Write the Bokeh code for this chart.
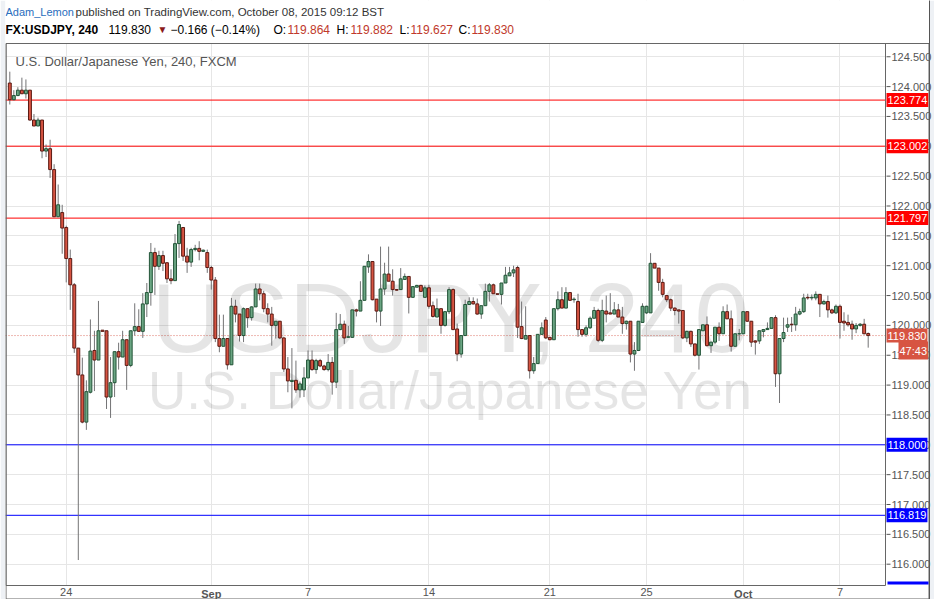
from bokeh.plotting import figure
from bokeh.models import Label, Span, FixedTicker, NumeralTickFormatter, ColumnDataSource, BoxAnnotation
from bokeh.embed import file_html
from bokeh.resources import INLINE
from bokeh.core.properties import value

# ---------------- data (USDJPY, 4h candles) ----------------
opens = [124.06, 123.78, 123.85, 123.94, 123.88, 123.94, 123.44, 123.34, 123.44, 122.92,
         122.96, 122.61, 121.82, 121.89, 121.64, 121.12, 120.68, 119.62, 119.17, 118.38,
         118.88, 119.58, 119.42, 119.92, 119.91, 118.80, 119.04, 119.56, 119.47, 119.76,
         119.33, 119.91, 119.98, 119.90, 120.36, 120.55, 121.22, 120.99, 121.17, 121.05,
         120.78, 120.75, 121.37, 121.64, 121.16, 121.06, 121.27, 121.29, 121.24, 121.22,
         120.97, 120.76, 119.78, 119.65, 119.78, 119.34, 120.32, 120.19, 119.83, 120.28,
         120.13, 120.31, 120.61, 120.53, 120.28, 120.19, 120.00, 120.07, 119.79, 119.27,
         119.06, 119.08, 118.92, 118.92, 119.12, 119.42, 119.26, 119.41, 119.32, 119.26,
         119.38, 119.05, 119.93, 120.02, 119.80, 119.80, 120.26, 120.24, 120.42, 120.98,
         121.07, 120.44, 120.24, 120.61, 120.86, 120.74, 120.60, 120.60, 120.77, 120.82,
         120.47, 120.64, 120.67, 120.47, 120.63, 120.33, 120.14, 120.28, 120.00, 120.23,
         120.60, 119.94, 119.52, 119.83, 120.35, 120.40, 120.36, 120.19, 120.33, 120.57,
         120.68, 120.53, 120.52, 120.71, 120.83, 120.88, 120.97, 119.98, 119.77, 119.83,
         119.24, 119.36, 119.85, 120.09, 119.80, 119.76, 120.28, 120.43, 120.29, 120.55,
         120.43, 120.40, 119.93, 119.85, 119.96, 120.12, 120.25, 119.75, 120.24, 120.21,
         120.19, 120.26, 120.14, 120.03, 120.07, 119.52, 119.58, 120.05, 120.21, 120.21,
         121.04, 120.96, 120.72, 120.50, 120.43, 120.29, 120.26, 120.25, 119.79, 119.90,
         119.69, 119.50, 119.91, 120.01, 119.66, 119.72, 119.97, 119.86, 120.23, 120.11,
         119.65, 119.86, 119.86, 120.23, 120.07, 119.74, 119.74, 119.90, 119.93, 119.95,
         120.13, 119.19, 119.78, 119.97, 120.02, 120.01, 120.19, 120.23, 120.47, 120.46,
         120.46, 120.52, 120.36, 120.40, 120.26, 120.21, 120.32, 120.07, 120.05, 120.02,
         119.94, 120.00, 120.02, 119.864]
highs = [124.25, 123.94, 123.99, 124.15, 124.12, 123.94, 123.54, 123.48, 123.44, 123.03,
         123.11, 122.70, 122.36, 122.02, 121.67, 121.27, 120.71, 119.62, 119.46, 119.08,
         120.10, 119.91, 120.41, 119.92, 119.91, 119.47, 119.56, 119.71, 119.91, 119.76,
         119.91, 120.37, 120.27, 120.54, 120.71, 121.38, 121.30, 121.25, 121.25, 121.05,
         120.94, 121.53, 121.75, 121.64, 121.30, 121.30, 121.35, 121.41, 121.27, 121.27,
         121.00, 120.81, 120.18, 120.18, 119.78, 120.46, 120.43, 120.19, 120.30, 120.28,
         120.32, 120.70, 120.70, 120.58, 120.37, 120.31, 120.07, 120.07, 119.80, 119.47,
         119.62, 119.41, 119.06, 119.30, 119.58, 119.58, 119.44, 119.44, 119.34, 119.52,
         119.47, 120.21, 120.19, 120.08, 119.99, 120.26, 120.28, 120.74, 120.99, 121.19,
         121.07, 120.44, 121.32, 121.05, 121.32, 120.94, 120.60, 120.96, 120.87, 120.82,
         120.65, 120.68, 120.68, 120.67, 120.68, 120.40, 120.45, 120.28, 120.23, 120.64,
         120.62, 120.03, 119.83, 120.43, 120.47, 120.47, 120.45, 120.33, 120.70, 120.71,
         120.70, 120.53, 120.71, 120.98, 120.98, 121.00, 121.00, 120.40, 120.32, 119.83,
         119.47, 119.85, 120.05, 120.14, 119.80, 120.28, 120.57, 120.64, 120.64, 120.56,
         120.47, 120.53, 119.93, 120.00, 120.15, 120.31, 120.28, 120.43, 120.50, 120.54,
         120.39, 120.36, 120.31, 120.08, 120.07, 119.72, 120.07, 120.37, 120.33, 121.21,
         121.04, 120.96, 120.78, 120.50, 120.45, 120.30, 120.26, 120.25, 119.91, 119.91,
         119.69, 119.93, 120.01, 120.15, 119.72, 119.97, 120.05, 120.32, 120.35, 120.25,
         119.86, 119.94, 120.23, 120.23, 120.07, 119.75, 119.91, 119.94, 120.05, 120.13,
         120.17, 119.78, 120.13, 120.13, 120.14, 120.31, 120.28, 120.53, 120.53, 120.52,
         120.57, 120.52, 120.43, 120.50, 120.28, 120.35, 120.35, 120.22, 120.18, 120.08,
         120.04, 120.04, 120.11, 119.882]
lows = [123.70, 123.77, 123.84, 123.88, 123.80, 123.43, 123.34, 123.34, 122.80, 122.82,
        122.47, 121.82, 121.82, 121.20, 120.72, 120.26, 119.54, 116.07, 118.36, 118.25,
        118.86, 118.90, 119.42, 119.90, 118.60, 118.45, 118.80, 119.26, 119.47, 118.92,
        119.30, 119.83, 119.90, 119.79, 120.14, 120.33, 120.51, 120.93, 120.91, 120.71,
        120.69, 120.75, 121.13, 121.08, 120.88, 120.98, 121.24, 121.09, 121.23, 120.88,
        120.60, 119.72, 119.55, 119.65, 119.26, 119.34, 120.05, 119.73, 119.72, 119.96,
        120.08, 120.31, 120.42, 120.22, 120.05, 119.66, 119.78, 119.77, 119.22, 118.88,
        118.61, 118.87, 118.79, 118.80, 119.12, 119.24, 119.19, 119.30, 119.24, 119.23,
        118.84, 118.95, 119.92, 119.69, 119.79, 119.79, 120.15, 120.24, 120.42, 120.88,
        120.42, 120.05, 119.99, 120.51, 120.74, 120.50, 120.58, 120.60, 120.77, 120.20,
        120.47, 120.64, 120.56, 120.47, 120.28, 120.13, 120.14, 119.86, 119.98, 120.19,
        119.92, 119.40, 119.46, 119.83, 120.35, 120.35, 120.18, 120.11, 120.33, 120.40,
        120.53, 120.52, 120.35, 120.71, 120.83, 120.81, 119.79, 119.77, 119.77, 119.11,
        119.19, 119.36, 119.85, 119.77, 119.75, 119.76, 120.25, 120.29, 120.29, 120.41,
        120.38, 119.81, 119.81, 119.81, 119.94, 120.12, 119.72, 119.72, 120.05, 120.19,
        120.19, 120.14, 119.86, 119.93, 119.38, 119.24, 119.57, 120.04, 120.19, 120.21,
        120.96, 120.58, 120.47, 120.39, 120.24, 120.17, 120.03, 119.77, 119.72, 119.64,
        119.48, 119.26, 119.91, 119.65, 119.54, 119.69, 119.74, 119.86, 120.11, 119.56,
        119.65, 119.75, 119.86, 120.06, 119.64, 119.51, 119.69, 119.80, 119.93, 119.95,
        118.97, 118.70, 119.72, 119.89, 119.89, 119.91, 120.17, 120.21, 120.43, 120.42,
        120.42, 120.14, 120.35, 120.13, 120.19, 120.19, 119.78, 119.91, 119.98, 119.76,
        119.87, 119.98, 119.85, 119.627]
closes = [123.78, 123.85, 123.94, 123.88, 123.94, 123.44, 123.34, 123.44, 122.92, 122.96,
          122.61, 121.82, 122.02, 121.63, 121.12, 120.68, 119.62, 119.17, 118.38, 118.89,
          119.57, 119.42, 119.91, 119.90, 118.80, 119.04, 119.56, 119.47, 119.76, 119.33,
          119.91, 119.98, 119.90, 120.36, 120.55, 121.22, 120.99, 121.17, 121.04, 120.78,
          120.75, 121.37, 121.69, 121.16, 121.06, 121.27, 121.29, 121.24, 121.26, 120.97,
          120.76, 119.78, 119.65, 119.78, 119.34, 120.32, 120.19, 119.83, 120.28, 120.13,
          120.31, 120.61, 120.53, 120.28, 120.19, 120.00, 120.07, 119.79, 119.27, 119.07,
          119.08, 118.92, 119.02, 119.12, 119.42, 119.26, 119.41, 119.32, 119.26, 119.38,
          119.05, 119.93, 120.02, 119.79, 119.81, 120.26, 120.24, 120.42, 120.99, 121.07,
          120.43, 120.24, 120.61, 120.86, 120.74, 120.60, 120.59, 120.78, 120.82, 120.47,
          120.65, 120.67, 120.57, 120.63, 120.32, 120.15, 120.28, 120.00, 120.23, 120.60,
          119.93, 119.52, 119.83, 120.35, 120.40, 120.36, 120.19, 120.33, 120.57, 120.68,
          120.53, 120.52, 120.71, 120.84, 120.88, 120.93, 119.97, 119.78, 119.83, 119.24,
          119.36, 119.85, 119.96, 119.79, 119.76, 120.28, 120.43, 120.29, 120.55, 120.42,
          120.44, 119.93, 119.85, 119.96, 120.12, 120.25, 119.75, 120.25, 120.19, 120.19,
          120.26, 120.14, 120.03, 120.07, 119.52, 119.58, 120.07, 120.32, 120.32, 121.04,
          120.96, 120.72, 120.52, 120.43, 120.29, 120.25, 120.24, 119.79, 119.90, 119.69,
          119.50, 119.93, 120.01, 119.66, 119.72, 119.97, 119.86, 120.23, 120.11, 119.65,
          119.86, 119.86, 120.23, 120.07, 119.72, 119.72, 119.91, 119.93, 119.95, 120.13,
          119.19, 119.78, 119.88, 120.01, 120.01, 120.19, 120.23, 120.46, 120.46, 120.47,
          120.52, 120.36, 120.40, 120.26, 120.21, 120.32, 120.05, 120.04, 120.01, 119.94,
          120.00, 120.02, 119.86, 119.830]

x_tick_pos = [14, 50, 74, 104, 134, 158, 182, 206]
x_tick_labels = ["24", "Sep", "7", "14", "21", "25", "Oct", "7"]
bold_labels = ["Sep", "Oct"]
y_ticks = [116.0, 116.5, 117.0, 117.5, 118.0, 118.5, 119.0, 119.5, 120.0,
           120.5, 121.0, 121.5, 122.0, 122.5, 123.0, 123.5, 124.0, 124.5]
red_levels = [123.774, 123.002, 121.797]
blue_levels = [118.000, 116.819]
last_price = 119.830
countdown = "47:43"

# ---------------- layout helpers (picture pixels -> data) ----------------
X0, DX = 9.3, 4.03          # x pixel of first candle, px per candle
Y0, DY = 563.7, 59.7         # y pixel of 116.000, px per yen
def xd(px):
    return (px - X0) / DX
def yd(py):
    return 116.0 + (Y0 - py) / DY

W, H = 931, 599
LEFT = 5
FONT = "Liberation Sans"
UP, DOWN = "#6ba583", "#d75442"
UP_B, DOWN_B = "#225437", "#5b1a13"
WICK = "#737375"
TXT = "#555555"
GRID = "#e6e6e6"
PLOT_R, PLOT_T, PLOT_B = 885, 43, 585

xL, xR = xd(LEFT), xd(W - 2)
yT, yB = yd(0), yd(H)

p = figure(frame_width=W - 2 - LEFT, frame_height=H,
           x_range=(xL, xR), y_range=(yB, yT),
           y_axis_location="right", output_backend="svg", toolbar_location=None,
           min_border_left=LEFT, min_border_top=0, min_border_bottom=0, min_border_right=0)
p.background_fill_color = "#ffffff"
p.border_fill_color = "#eef1f5"
p.outline_line_color = None

p.xgrid.grid_line_color = GRID
p.ygrid.grid_line_color = GRID

# right price axis: labels pulled into the price-scale strip
p.yaxis.ticker = FixedTicker(ticks=y_ticks)
p.yaxis.formatter = NumeralTickFormatter(format="0.000")
p.yaxis.major_tick_out = 0
p.yaxis.major_tick_in = 0
p.yaxis.major_tick_line_color = None
p.yaxis.minor_tick_line_color = None
p.yaxis.major_label_standoff = -38
p.yaxis.axis_line_color = TXT
p.yaxis.major_label_text_color = TXT
p.yaxis.major_label_text_font = FONT
p.yaxis.major_label_text_font_size = "11px"

# bottom time axis
p.xaxis.ticker = FixedTicker(ticks=x_tick_pos)
p.xaxis.major_label_overrides = {t: ("" if l in bold_labels else l) for t, l in zip(x_tick_pos, x_tick_labels)}
p.xaxis.major_tick_out = 0
p.xaxis.major_tick_in = 0
p.xaxis.major_tick_line_color = None
p.xaxis.minor_tick_line_color = None
p.xaxis.major_label_standoff = -12
p.xaxis.axis_line_color = TXT
p.xaxis.major_label_text_color = TXT
p.xaxis.major_label_text_font = FONT
p.xaxis.major_label_text_font_size = "11px"

# horizontal level lines (under masks so they stop at the price scale)
for lv in red_levels:
    p.add_layout(Span(location=lv, dimension="width", line_color="#ff0000", line_width=1, level="underlay"))
for lv in blue_levels:
    p.add_layout(Span(location=lv, dimension="width", line_color="#0000ff", line_width=1, level="underlay"))
p.add_layout(Span(location=last_price, dimension="width", line_color=DOWN, line_alpha=0.8,
                  line_width=1, line_dash="1 2", level="underlay"))

# white masks for header / price scale / time scale strips
def mask(l, r, t, b):
    p.add_layout(BoxAnnotation(left=l, right=r, top=t, bottom=b, fill_color="#ffffff",
                               fill_alpha=1.0, line_color=None, level="underlay"))
mask(xd(PLOT_R), xR, yT, yB)
mask(xL, xR, yd(PLOT_B), yB)
mask(xL, xR, yT, yd(PLOT_T))

# borders
def border(l, r, t, b):
    p.add_layout(BoxAnnotation(left=l, right=r, top=t, bottom=b, fill_alpha=0.0,
                               line_color="#666666", line_width=1, line_alpha=1.0))
border(xd(LEFT + 0.5), xd(PLOT_R), yd(PLOT_T), yd(PLOT_B))
border(xd(LEFT + 0.5), xd(W - 2.5), yd(PLOT_T), yd(H - 0.5))

# watermark
p.text(x=[xd(450)], y=[yd(317)], text=["USDJPY, 240"], text_align="center",
       text_baseline="alphabetic", text_font=value(FONT), text_font_size="99px",
       text_color="#000000", text_alpha=0.1)
p.text(x=[xd(450)], y=[yd(390)], text=["U.S. Dollar/Japanese Yen"], text_align="center",
       text_baseline="alphabetic", text_font=value(FONT), text_font_size="53px",
       text_color="#000000", text_alpha=0.1)

# candles
idx = list(range(len(opens)))
src = ColumnDataSource(dict(
    x=idx, o=opens, h=highs, l=lows, c=closes,
    top=[max(o, c) for o, c in zip(opens, closes)],
    bot=[min(o, c) for o, c in zip(opens, closes)],
    fill=[UP if c >= o else DOWN for o, c in zip(opens, closes)],
    edge=[UP_B if c >= o else DOWN_B for o, c in zip(opens, closes)],
))
p.segment(x0="x", y0="l", x1="x", y1="h", source=src, line_color=WICK, line_width=1)
p.vbar(x="x", top="top", bottom="bot", width=0.72, source=src,
       fill_color="fill", line_color="edge", line_width=1)

# price-scale tick dashes
p.segment(x0=[xd(PLOT_R + 1)] * len(y_ticks), y0=y_ticks,
          x1=[xd(PLOT_R + 5)] * len(y_ticks), y1=y_ticks, line_color=TXT, line_width=1)

# bold month labels on the time axis
for t, l in zip(x_tick_pos, x_tick_labels):
    if l in bold_labels:
        p.add_layout(Label(x=t, y=yd(593), text=l, text_align="center", text_baseline="middle",
                           text_font=FONT, text_font_size="11px", text_font_style="bold",
                           text_color=TXT))

# inner title
p.add_layout(Label(x=xd(15), y=yd(61), text="U.S. Dollar/Japanese Yen, 240, FXCM",
                   text_baseline="middle", text_font=FONT, text_font_size="13px",
                   text_color=TXT))

# header
def hdr(px, py, txt, color="#333333", bold=False, size="12px"):
    p.add_layout(Label(x=xd(px), y=yd(py), text=txt, text_baseline="middle",
                       text_font=FONT, text_font_size=size, text_color=color,
                       text_font_style="bold" if bold else "normal"))

hdr(5, 11, "Adam_Lemon", color="#2a6ebd", size="11px")
hdr(75, 11, "published on TradingView.com, October 08, 2015 09:12 BST", size="11.5px")
hdr(5, 29, "FX:USDJPY, 240", color="#000000", bold=True)
hdr(108, 29, "119.830", color="#000000")
hdr(157, 29, "\u25BC", color="#8b1a1a", size="10px")
hdr(170, 29, "\u22120.166 (\u22120.14%)", color="#000000")
hdr(273, 29, "O:", color="#000000")
hdr(287, 29, "119.864", color="#c0392b")
hdr(336, 29, "H:", color="#000000")
hdr(350, 29, "119.882", color="#c0392b")
hdr(399, 29, "L:", color="#000000")
hdr(410, 29, "119.627", color="#c0392b")
hdr(458, 29, "C:", color="#000000")
hdr(471, 29, "119.830", color="#c0392b")

# price-scale boxes
def box(price, txt, bg, px=PLOT_R + 1):
    kw = dict(x=xd(px), y=price, text=txt, text_baseline="middle", text_align="left",
              text_font=FONT, text_font_size="11px", text_color="#ffffff",
              background_fill_color=bg)
    try:
        lab = Label(padding=(1, 3), **kw)
    except Exception:
        lab = Label(**kw)
    p.add_layout(lab)

for lv in red_levels:
    box(lv, f"{lv:.3f}", "#ff0000")
for lv in blue_levels:
    box(lv, f"{lv:.3f}", "#0000ff")
box(last_price, f"{last_price:.3f}", DOWN)
box(yd(350), countdown, DOWN, px=898)

# blue bar at foot of the price scale
p.add_layout(BoxAnnotation(left=xd(PLOT_R + 2), right=xd(W - 3), top=yd(581), bottom=yd(584),
                           fill_color="#0000ff", fill_alpha=1.0, line_color=None))

open("out.html", "w").write(file_html(p, INLINE))
